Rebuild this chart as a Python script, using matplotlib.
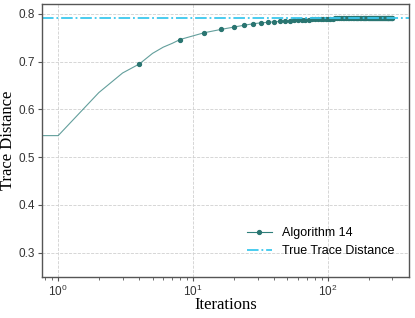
import numpy as np
import matplotlib
matplotlib.use("Agg")
import matplotlib.pyplot as plt

# iterations (dense at the start, then every 4 steps)
iterations = [0, 1, 2, 3, 4, 5, 6, 7, 8] + list(range(12, 301, 4))
trace_alg = [
    0.545, 0.545, 0.635, 0.676, 0.695, 0.717, 0.730, 0.738, 0.746,
    0.760, 0.767, 0.772, 0.776, 0.779, 0.781, 0.782, 0.783, 0.784, 0.785,
    0.785, 0.786, 0.786, 0.787, 0.787, 0.787, 0.788, 0.788, 0.788, 0.788,
    0.789, 0.789, 0.789, 0.789, 0.789, 0.790, 0.790, 0.790, 0.790, 0.790,
    0.790, 0.790, 0.791, 0.791, 0.791, 0.791, 0.791, 0.791, 0.791, 0.791,
    0.791, 0.791, 0.791, 0.791, 0.791, 0.791, 0.791, 0.791, 0.792, 0.792,
    0.792, 0.792, 0.792, 0.792, 0.792, 0.792, 0.792, 0.792, 0.792, 0.792,
    0.792, 0.792, 0.792, 0.792, 0.792, 0.792, 0.792, 0.792, 0.792, 0.792,
    0.792, 0.792, 0.792,
]
true_trace = 0.792

marker_idx = [i for i, it in enumerate(iterations) if it % 4 == 0]

plt.rcParams["font.family"] = "Liberation Sans"

fig = plt.figure(figsize=(4.15, 3.18), dpi=100)
ax = fig.add_axes([0.1, 0.13, 0.886, 0.857])

ax.plot(iterations, trace_alg, color="#2f7f7b", lw=0.8, alpha=0.75,
        label="Algorithm 14")
ax.plot(iterations, trace_alg, color="#2a7571", lw=0, marker="o", ms=2.8,
        markevery=marker_idx)
ax.axhline(true_trace, color="#3cc8ee", lw=1.3, ls="-.",
           label="True Trace Distance")
# legend proxy for marker + line
h1, = ax.plot([], [], color="#2f7f7b", lw=0.8, marker="o", ms=2.8,
              markerfacecolor="#2a7571", markeredgecolor="#2a7571")

ax.set_xscale("log")
ax.set_ylim(0.25, 0.82)
ax.set_yticks([0.3, 0.4, 0.5, 0.6, 0.7, 0.8])

ax.grid(True, which="major", ls="--", color="#d0d0d0", lw=0.6)
for s in ax.spines.values():
    s.set_color("#555555")
    s.set_linewidth(1.0)
ax.tick_params(which="both", direction="out", colors="#555555",
               labelcolor="#333333", labelsize=8.5, pad=2)
ax.tick_params(which="major", length=3)
ax.tick_params(which="minor", length=2)

ax.set_xlabel("Iterations", family="Liberation Serif", fontsize=12)
ax.set_ylabel("Trace Distance", family="Liberation Serif", fontsize=12)
ax.xaxis.set_label_coords(0.5, -0.075)
ax.yaxis.set_label_coords(-0.068, 0.5)

handles, labels = ax.get_legend_handles_labels()
ax.legend([h1, handles[1]], ["Algorithm 14", "True Trace Distance"],
          loc="lower right", frameon=False, fontsize=9,
          bbox_to_anchor=(0.99, 0.03))

fig.savefig("out.png", dpi=100)
